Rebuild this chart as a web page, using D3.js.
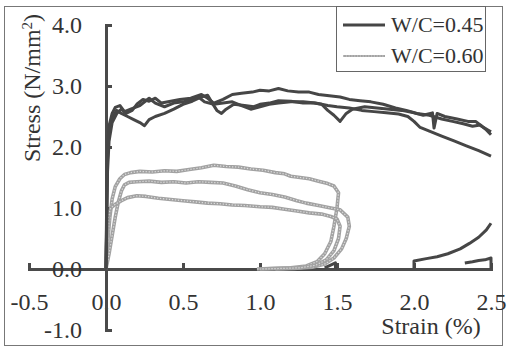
<!DOCTYPE html>
<html>
<head>
<meta charset="utf-8">
<script src="https://cdn.jsdelivr.net/npm/d3@7"></script>
<style>
  body { margin: 0; background: #fff; }
  text { font-family: "Liberation Serif", "Times New Roman", serif; fill: #333; }
</style>
</head>
<body>
<svg width="507" height="352"></svg>
<script>
// W/C=0.45 curves [strain %, stress N/mm2]
const wc45a = [[0,0],[0.005,0.8],[0.01,1.6],[0.02,2.1],[0.04,2.4],[0.07,2.55],[0.1,2.62],[0.13,2.55],[0.17,2.6],[0.2,2.7],[0.24,2.78],[0.28,2.75],[0.32,2.8],[0.36,2.72],[0.42,2.75],[0.48,2.78],[0.55,2.8],[0.62,2.86],[0.66,2.8],[0.7,2.72],[0.76,2.78],[0.82,2.86],[0.88,2.88],[0.95,2.9],[1.0,2.93],[1.06,2.92],[1.12,2.96],[1.18,2.92],[1.25,2.9],[1.32,2.9],[1.38,2.86],[1.45,2.84],[1.52,2.82],[1.58,2.78],[1.65,2.76],[1.72,2.74],[1.8,2.7],[1.88,2.64],[1.95,2.6],[2.02,2.55],[2.1,2.52],[2.18,2.46],[2.25,2.42],[2.32,2.38],[2.38,2.34],[2.43,2.36],[2.47,2.28],[2.5,2.2]]
const wc45b = [[0,0],[0.005,1.0],[0.01,1.8],[0.02,2.25],[0.04,2.48],[0.07,2.6],[0.1,2.55],[0.14,2.5],[0.18,2.45],[0.22,2.4],[0.25,2.35],[0.28,2.45],[0.32,2.5],[0.38,2.55],[0.44,2.62],[0.5,2.7],[0.56,2.75],[0.62,2.82],[0.66,2.85],[0.69,2.72],[0.72,2.6],[0.75,2.55],[0.78,2.62],[0.83,2.7],[0.9,2.68],[0.96,2.66],[1.0,2.7],[1.06,2.72],[1.12,2.76],[1.2,2.75],[1.28,2.72],[1.35,2.72],[1.4,2.7],[1.44,2.6],[1.48,2.52],[1.52,2.42],[1.56,2.55],[1.6,2.62],[1.68,2.66],[1.76,2.64],[1.84,2.62],[1.92,2.6],[2.0,2.56],[2.06,2.52],[2.12,2.56],[2.13,2.31],[2.15,2.55],[2.2,2.5],[2.28,2.46],[2.35,2.42],[2.4,2.42],[2.44,2.34],[2.48,2.28],[2.5,2.25]]
const wc45c = [[0,0],[0.005,1.3],[0.01,2.0],[0.02,2.35],[0.04,2.55],[0.06,2.65],[0.09,2.68],[0.12,2.58],[0.16,2.62],[0.22,2.68],[0.28,2.8],[0.32,2.72],[0.38,2.66],[0.44,2.72],[0.5,2.74],[0.56,2.78],[0.6,2.82],[0.64,2.74],[0.7,2.7],[0.76,2.72],[0.82,2.74],[0.88,2.68],[0.94,2.62],[1.0,2.66],[1.06,2.7],[1.12,2.72],[1.2,2.74],[1.28,2.74],[1.36,2.72],[1.44,2.68],[1.5,2.66],[1.58,2.64],[1.66,2.6],[1.74,2.58],[1.82,2.56],[1.9,2.54],[1.96,2.5],[2.0,2.42],[2.04,2.32],[2.1,2.26],[2.18,2.18],[2.26,2.1],[2.34,2.02],[2.42,1.94],[2.5,1.85]]
// short dark pieces near the strain axis
const tailA = [[2.0,0],[2.0,0.13],[2.08,0.17],[2.15,0.2],[2.22,0.25],[2.3,0.33],[2.36,0.42],[2.42,0.52],[2.47,0.64],[2.5,0.75]]
const tailB = [[2.33,0.1],[2.38,0.12],[2.42,0.14],[2.46,0.15],[2.5,0.18],[2.5,0]]
const tailC = [[1.42,0.02],[1.49,0.1],[1.49,0]]

// W/C=0.60 curves
const wc60a = [[0,0],[0.01,0.4],[0.025,0.85],[0.04,1.15],[0.06,1.35],[0.09,1.48],[0.12,1.55],[0.16,1.58],[0.22,1.6],[0.3,1.59],[0.38,1.61],[0.46,1.6],[0.54,1.63],[0.62,1.66],[0.7,1.7],[0.78,1.68],[0.86,1.67],[0.94,1.64],[1.02,1.62],[1.1,1.58],[1.16,1.56],[1.2,1.52],[1.26,1.5],[1.32,1.48],[1.38,1.44],[1.44,1.4],[1.48,1.36],[1.51,1.25],[1.5,1.0],[1.48,0.7],[1.46,0.45],[1.42,0.25],[1.37,0.12],[1.3,0.05],[1.2,0.02],[1.1,0.01],[0.98,0]]
const wc60b = [[0,0],[0.02,0.25],[0.04,0.55],[0.06,0.85],[0.08,1.1],[0.1,1.28],[0.12,1.38],[0.15,1.42],[0.2,1.43],[0.28,1.44],[0.36,1.42],[0.44,1.43],[0.52,1.41],[0.6,1.43],[0.68,1.42],[0.76,1.41],[0.84,1.36],[0.92,1.3],[1.0,1.25],[1.08,1.22],[1.16,1.18],[1.24,1.12],[1.3,1.08],[1.38,1.04],[1.46,1.0],[1.52,0.97],[1.57,0.85],[1.58,0.7],[1.56,0.5],[1.53,0.33],[1.48,0.18],[1.42,0.08],[1.34,0.03],[1.22,0.01],[1.1,0]]
const wc60c = [[0,0],[0.005,0.45],[0.015,0.85],[0.03,1.0],[0.06,1.06],[0.1,1.12],[0.14,1.17],[0.2,1.2],[0.26,1.19],[0.34,1.16],[0.42,1.14],[0.5,1.12],[0.58,1.1],[0.66,1.08],[0.74,1.07],[0.82,1.05],[0.9,1.04],[1.0,1.02],[1.08,1.01],[1.16,0.98],[1.24,0.95],[1.32,0.92],[1.4,0.9],[1.46,0.86],[1.5,0.82],[1.52,0.7],[1.51,0.5],[1.48,0.3],[1.43,0.15],[1.36,0.06],[1.26,0.02],[1.15,0.01],[1.0,0]]

const xTicks = [-0.5, 0, 0.5, 1.0, 1.5, 2.0, 2.5]
const yTicks = [-1.0, 0, 1.0, 2.0, 3.0, 4.0]
const legendLabels = ["W/C=0.45", "W/C=0.60"]

const svg = d3.select("svg")
const axisColor = "#4a4a4a"
const dark = "#464646"
const light = "#a2a2a2"
const fmt = d => d3.format(".1f")(d).replace("−", "-")

let x = d3.scaleLinear().domain([-0.5, 2.5]).range([29, 491])
let y = d3.scaleLinear().domain([-1, 4]).range([330, 25])

// outer frame
svg.append("rect")
    .attr("x", 4.5).attr("y", 6.5)
    .attr("width", 498).attr("height", 339)
    .attr("fill", "none")
    .attr("stroke", "#777")
    .attr("stroke-width", 1)

// axes cross at the origin
let gx = svg.append("g")
    .attr("transform", "translate(0," + y(0) + ")")
    .call(d3.axisBottom(x).tickValues(xTicks).tickSize(-6).tickPadding(24).tickFormat(fmt))
let gy = svg.append("g")
    .attr("transform", "translate(" + x(0) + ",0)")
    .call(d3.axisLeft(y).tickValues(yTicks).tickSize(-6).tickPadding(24).tickFormat(fmt))

for (let g of [gx, gy]) {
  g.select(".domain").attr("stroke", axisColor).attr("stroke-width", 3)
  g.selectAll(".tick line").attr("stroke", axisColor).attr("stroke-width", 3)
  g.selectAll(".tick text")
    .style("font-family", "Liberation Serif, serif")
    .attr("font-size", 24).attr("fill", "#333")
}

let line = d3.line().x(d => x(d[0])).y(d => y(d[1]))

// W/C=0.60: grey beaded line
for (let c of [wc60a, wc60b, wc60c]) {
  svg.append("path").attr("d", line(c))
      .attr("fill", "none").attr("stroke", light).attr("stroke-width", 3.6)
      .attr("stroke-linejoin", "round")
  svg.append("path").attr("d", line(c))
      .attr("fill", "none").attr("stroke", "#dcdcdc").attr("stroke-width", 1.2)
      .attr("stroke-dasharray", "1.3,1.7")
}

// W/C=0.45: solid dark line
for (let c of [wc45a, wc45b, wc45c, tailA, tailB, tailC]) {
  svg.append("path").attr("d", line(c))
      .attr("fill", "none").attr("stroke", dark).attr("stroke-width", 3)
      .attr("stroke-linejoin", "round")
}

// axis titles
svg.append("text")
    .attr("x", 431).attr("y", 334)
    .attr("text-anchor", "middle")
    .attr("font-size", 24)
    .text("Strain (%)")

let yt = svg.append("text")
    .attr("transform", "translate(40,88) rotate(-90)")
    .attr("text-anchor", "middle")
    .attr("font-size", 24)
yt.append("tspan").text("Stress (N/mm")
yt.append("tspan").attr("baseline-shift", "super").attr("font-size", 15).text("2")
yt.append("tspan").text(")")

// legend
let lg = svg.append("g")
lg.append("rect")
    .attr("x", 336.5).attr("y", 6.5).attr("width", 149).attr("height", 65)
    .attr("fill", "#fff").attr("stroke", "#666").attr("stroke-width", 1)
lg.append("line").attr("x1", 343).attr("x2", 385).attr("y1", 25).attr("y2", 25)
    .attr("stroke", dark).attr("stroke-width", 3)
lg.append("line").attr("x1", 343).attr("x2", 385).attr("y1", 56).attr("y2", 56)
    .attr("stroke", light).attr("stroke-width", 2.2)
lg.append("line").attr("x1", 343).attr("x2", 385).attr("y1", 56).attr("y2", 56)
    .attr("stroke", "#e0e0e0").attr("stroke-width", 0.8).attr("stroke-dasharray", "1.2,1.6")
lg.selectAll("text.lab").data(legendLabels).enter().append("text")
    .attr("class", "lab")
    .attr("x", 391).attr("y", (d, i) => 32 + i * 31)
    .attr("font-size", 22)
    .text(d => d)
</script>
</body>
</html>
